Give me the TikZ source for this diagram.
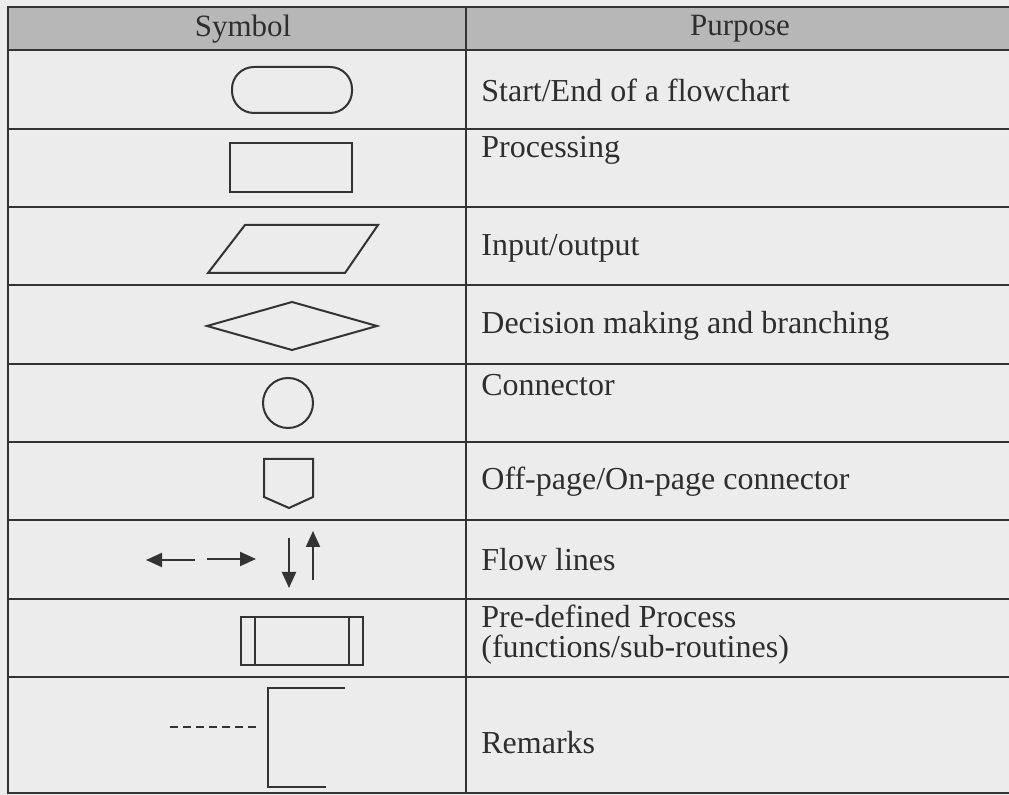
\documentclass[tikz,border=0pt]{standalone}
\usepackage{fontspec}
\setmainfont{Liberation Serif}
\usetikzlibrary{arrows.meta}
\definecolor{ink}{HTML}{333333}
\definecolor{paper}{HTML}{ECECEC}
\definecolor{headgray}{HTML}{B7B7B7}
\tikzset{
  rule/.style={draw=ink, line width=0.8pt},
  symb/.style={draw=ink, line width=1pt},
  purpose/.style={anchor=west, align=left, inner sep=0pt, text=ink!90!black, font=\fontsize{16}{15}\selectfont},
  head/.style={text=ink!90!black, font=\fontsize{15.5}{18}\selectfont},
  flow/.style={symb, -{Triangle[length=8pt,width=7pt]}},
}
\begin{document}
\begin{tikzpicture}[x=0.5pt,y=-0.5pt]
\useasboundingbox (0,0) rectangle (1009,795);
\fill[paper] (0,0) rectangle (1009,795);
% table frame
\fill[headgray] (8,7) rectangle (1009,50);
\draw[rule] (1009,7) -- (8,7) -- (8,793) -- (1009,793);
\draw[rule] (466,7) -- (466,793);
\foreach \y in {50,129,207,285,364,442,520,599,677}
  \draw[rule] (8,\y) -- (1009,\y);
\node[head] (symhead) at (243,29) {Symbol};
\node[head] (purhead) at (740,29) {Purpose};
% symbols
\node[symb, rounded corners=11pt, minimum width=60pt, minimum height=23pt] (term) at (292,90) {};
\node[symb, minimum width=61pt, minimum height=24.5pt] (proc) at (291,168) {};
\draw[symb] (245,225) -- (378,225) -- (345,273) -- (208,273) -- cycle;
\draw[symb] (207,326) -- (292,302) -- (377,326) -- (292,350) -- cycle;
\node[symb, circle, minimum size=25pt, inner sep=0pt] (conn) at (288,403) {};
\draw[symb] (264,459) -- (313,459) -- (313,497) -- (289,508) -- (264,497) -- cycle;
% flow lines
\coordinate (lfrom) at (195,560); \coordinate (lto) at (146,560);
\coordinate (rfrom) at (207,559); \coordinate (rto) at (256,559);
\coordinate (dfrom) at (289,538); \coordinate (dto) at (289,588);
\coordinate (ufrom) at (313,580); \coordinate (uto) at (313,531);
\draw[flow] (lfrom) -- (lto);
\draw[flow] (rfrom) -- (rto);
\draw[flow] (dfrom) -- (dto);
\draw[flow] (ufrom) -- (uto);
% pre-defined process
\node[symb, minimum width=61pt, minimum height=24pt] (pre) at (302,641) {};
\draw[symb] ([xshift=7.5pt]pre.north west) -- ([xshift=7.5pt]pre.south west);
\draw[symb] ([xshift=-7.5pt]pre.north east) -- ([xshift=-7.5pt]pre.south east);
% remarks
\draw[symb, dash pattern=on 4pt off 2.5pt] (170,727) -- (260,727);
\draw[symb] (345,688) -- (268,688) -- (268,787) -- (326,787);
% purposes
\node[purpose] (pterm) at (481,90) {Start/End of a flowchart};
\node[purpose] (pproc) at (481,150) {Processing};
\node[purpose] (pio) at (481,248) {Input/output};
\node[purpose] (pdec) at (481,326) {Decision making and branching};
\node[purpose] (pconn) at (481,385) {Connector};
\node[purpose] (poff) at (481,482) {Off-page/On-page connector};
\node[purpose] (pflow) at (481,560) {Flow lines};
\node[purpose] (ppre) at (481,635) {Pre-defined Process\\(functions/sub-routines)};
\node[purpose] (prem) at (481,743) {Remarks};
\end{tikzpicture}
\end{document}
